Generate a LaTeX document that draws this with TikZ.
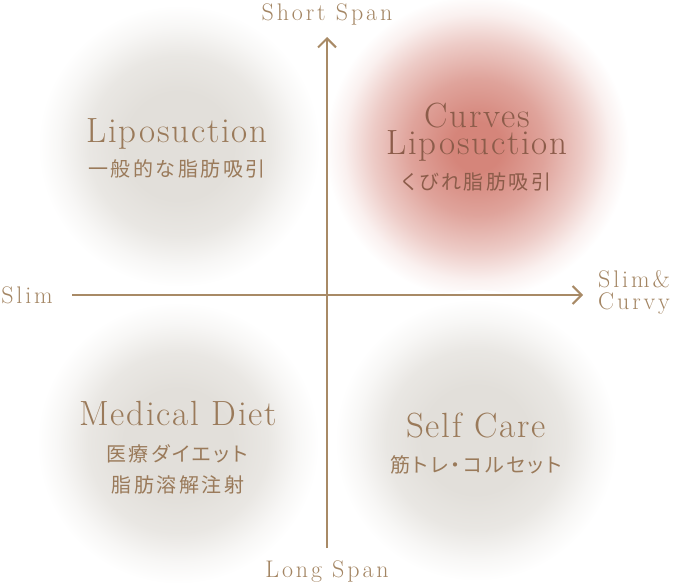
\documentclass[tikz,border=0pt]{standalone}
\usepackage{fontspec}
\usetikzlibrary{arrows.meta}
\setmainfont{Latin Modern Roman}
\newfontfamily\jpfont[LetterSpace=13,RawFeature=+palt]{Noto Sans CJK JP}
\newfontfamily\bigfont[LetterSpace=5]{Latin Modern Roman}
\newfontfamily\axfont[LetterSpace=12]{Latin Modern Roman}
\definecolor{axiscol}{HTML}{A88A66}
\definecolor{labcol}{HTML}{A38563}
\definecolor{txtcol}{HTML}{9A7A5A}
\definecolor{redtxt}{HTML}{8C5C4A}
\definecolor{blobgray}{HTML}{E2DFDA}
\definecolor{blobred}{HTML}{D5857A}
\pgfdeclareradialshading{grayblob}{\pgfpointorigin}{color(0bp)=(blobgray); color(9bp)=(blobgray); color(15bp)=(blobgray!75!white); color(20bp)=(blobgray!25!white); color(23.5bp)=(white); color(25bp)=(white); color(50bp)=(white)}
\pgfdeclareradialshading{redblob}{\pgfpointorigin}{color(0bp)=(blobred); color(4bp)=(blobred); color(11bp)=(blobred!75!white); color(17bp)=(blobred!42!white); color(21.5bp)=(blobred!12!white); color(24.5bp)=(white); color(50bp)=(white)}
\tikzset{
  axisline/.style={draw=axiscol, line width=2pt, -{Straight Barb[length=9pt,width=18pt,line width=2pt]}},
  axislabel/.style={text=labcol, font=\axfont\fontsize{24}{26}\selectfont, inner sep=0pt, anchor=base},
  bigtitle/.style={text=txtcol, font=\bigfont\fontsize{35}{27}\selectfont, inner sep=0pt, anchor=base},
  jptext/.style={text=txtcol, font=\jpfont\fontsize{20}{22}\selectfont, inner sep=0pt, anchor=base},
}
\begin{document}
\begin{tikzpicture}[x=1pt,y=-1pt]
\useasboundingbox (0,0) rectangle (678,584);
% blobs
\shade[shading=grayblob] (179,146) circle[radius=150pt];
\shade[shading=redblob] (477,147) circle[radius=155pt];
\shade[shading=grayblob] (178,443) circle[radius=150pt];
\shade[shading=grayblob] (476,440) circle[radius=150pt];
% axes
\coordinate (vbot) at (327,548);
\coordinate (vtop) at (327,37);
\coordinate (hleft) at (72,295);
\coordinate (hright) at (583,295);
\draw[axisline] (vbot) -- (vtop);
\draw[axisline] (hleft) -- (hright);
% axis labels
\node[axislabel] (short) at (327,20) {Short Span};
\node[axislabel] (long) at (327,577) {Long Span};
\node[axislabel] (slim) at (27,303) {Slim};
\node[axislabel, align=left, anchor=north west, font=\axfont\fontsize{24}{22}\selectfont] (curvy) at (598,270) {Slim\&\\Curvy};
% quadrant texts
\node[bigtitle] (lipo) at (177,142) {Liposuction};
\node[jptext] (lipojp) at (177,176) {一般的な脂肪吸引};
\node[bigtitle, text=redtxt, align=center, anchor=north] (curves) at (477,103) {Curves\\Liposuction};
\node[jptext, text=redtxt] (curvesjp) at (477,189) {くびれ脂肪吸引};
\node[bigtitle] (medical) at (178,425) {Medical Diet};
\node[jptext] (medjp1) at (177,461) {医療ダイエット};
\node[jptext] (medjp2) at (178,492) {脂肪溶解注射};
\node[bigtitle] (self) at (476,437) {Self Care};
\node[jptext] (selfjp) at (476,472) {筋トレ・コルセット};
\end{tikzpicture}
\end{document}
